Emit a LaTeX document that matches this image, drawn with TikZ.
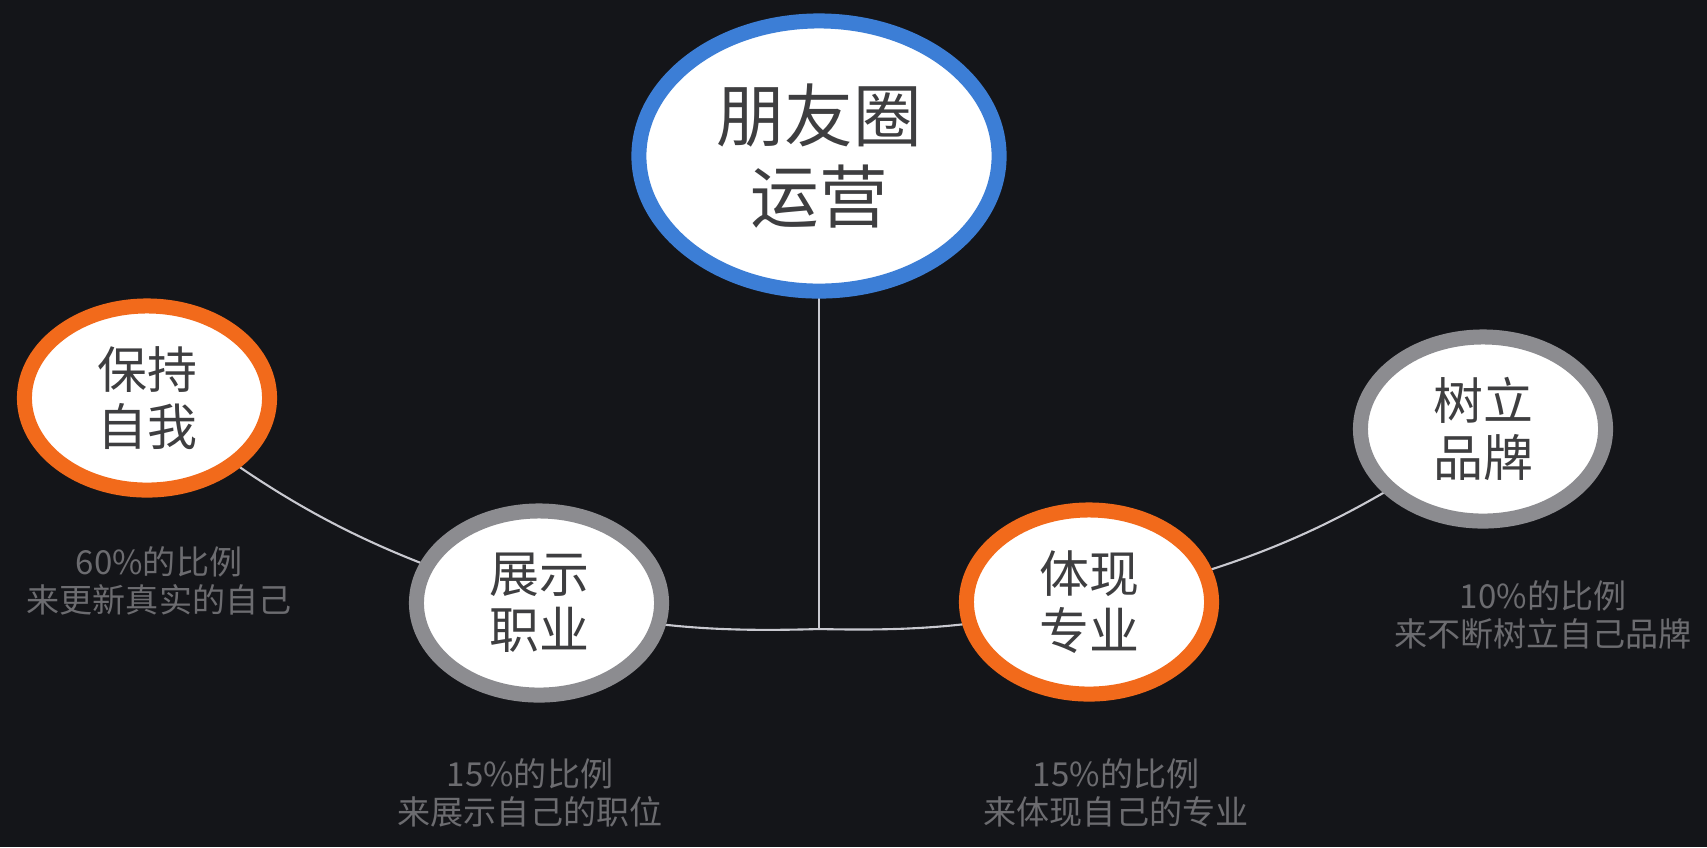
\documentclass[tikz,border=0pt]{standalone}
\usepackage{fontspec}
\newfontfamily\cjk{Noto Sans CJK SC}
\usetikzlibrary{shapes.geometric,backgrounds}
\definecolor{bg}{HTML}{141519}
\definecolor{mainblue}{HTML}{3C7ED6}
\definecolor{accorange}{HTML}{F26A1B}
\definecolor{ringgray}{HTML}{8C8C90}
\definecolor{linkgray}{HTML}{C9C9D0}
\definecolor{txtdark}{HTML}{3E3E40}
\definecolor{captxt}{HTML}{6C6C70}
\tikzset{
  bubble/.style={ellipse, fill=white, line width=4.27pt, inner sep=0pt,
    minimum width=2.45cm, minimum height=1.84cm, align=center, text=txtdark,
    font=\cjk\fontsize{14.2}{16}\selectfont},
  hub/.style={bubble, draw=mainblue, minimum width=3.6cm, minimum height=2.7cm,
    font=\cjk\fontsize{19.5}{23}\selectfont},
  hot/.style={bubble, draw=accorange},
  cool/.style={bubble, draw=ringgray},
  caption/.style={align=center, text=captxt, font=\cjk\fontsize{9.4}{10.8}\selectfont},
  link/.style={draw=linkgray, line width=0.6pt}
}
\begin{document}
\begin{tikzpicture}[x=0.01cm,y=-0.01cm]
\useasboundingbox (0,0) rectangle (1707,847);
\node[hub]  (main)  at (819,156)  {朋友圈\\运营};
\node[hot]  (keep)  at (147,398)  {保持\\自我};
\node[cool] (show)  at (539,603)  {展示\\职业};
\node[hot]  (pro)   at (1089,602) {体现\\专业};
\node[cool] (brand) at (1483,429) {树立\\品牌};
\coordinate (j) at (819,629);
\node[caption] (c1) at (159,581)  {60\%的比例\\来更新真实的自己};
\node[caption] (c2) at (530,793)  {15\%的比例\\来展示自己的职位};
\node[caption] (c3) at (1116,793) {15\%的比例\\来体现自己的专业};
\node[caption] (c4) at (1543,615) {10\%的比例\\来不断树立自己品牌};
\begin{pgfonlayer}{background}
  \fill[bg] (0,0) rectangle (1707,847);
  \draw[link] (main.center) -- (j);
  \draw[link] (keep.center) to[bend right=11] (show.center);
  \draw[link] (show.center) to[bend right=7] (j);
  \draw[link] (j) to[bend right=7] (pro.center);
  \draw[link] (pro.center) to[bend right=11] (brand.center);
\end{pgfonlayer}
\end{tikzpicture}
\end{document}
